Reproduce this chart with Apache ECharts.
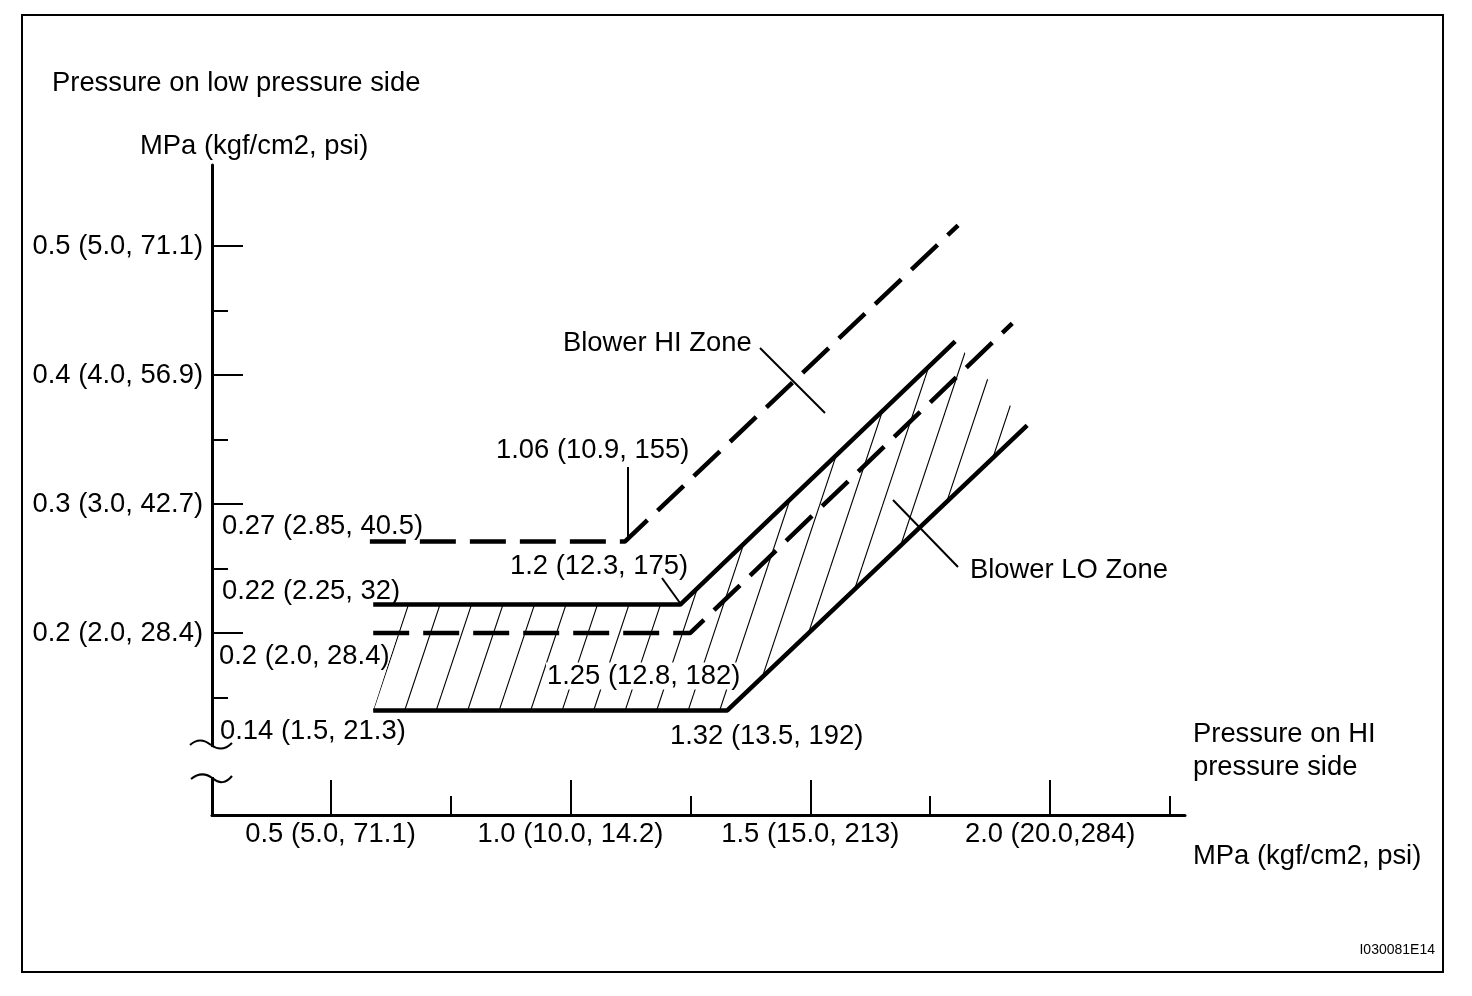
<!DOCTYPE html>
<html>
<head>
<meta charset="utf-8">
<script src="https://cdn.jsdelivr.net/npm/echarts@6.0.0/dist/echarts.min.js"></script>
<style>
html,body{margin:0;padding:0;background:#fff;}
#chart{width:1472px;height:996px;}
</style>
</head>
<body>
<div id="chart"></div>
<script>
// ---------- data ----------
const xMajorTicks = [0.5, 1.0, 1.5, 2.0];
const xMinorTicks = [0.75, 1.25, 1.75, 2.25];
const xTickLabels = ['0.5 (5.0, 71.1)', '1.0 (10.0, 14.2)', '1.5 (15.0, 213)', '2.0 (20.0,284)'];
const yMajorTicks = [0.2, 0.3, 0.4, 0.5];
const yMinorTicks = [0.15, 0.25, 0.35, 0.45];
const yTickLabels = ['0.2 (2.0, 28.4)', '0.3 (3.0, 42.7)', '0.4 (4.0, 56.9)', '0.5 (5.0, 71.1)'];
const xRange = [0.253, 2.281];
const yRange = [0.0589, 0.5628];

// boundary lines [HI-pressure, LO-pressure] in MPa
const hiZoneUpperDashed = [[0.582, 0.271], [1.114, 0.271], [1.808, 0.516]];
const loZoneUpperSolid  = [[0.589, 0.222], [1.229, 0.222], [1.802, 0.426]];
const loZoneLowerDashed = [[0.589, 0.200], [1.250, 0.200], [1.921, 0.440]];
const loZoneLowerSolid  = [[0.589, 0.140], [1.327, 0.140], [1.952, 0.361]];
// hatched region (Blower LO zone)
const hatchZone = [[0.589, 0.140], [0.660, 0.222], [1.229, 0.222], [1.802, 0.426], [1.952, 0.361], [1.327, 0.140]];

// ---------- helpers ----------
const FONT = '"Liberation Sans", Arial, sans-serif';
const FS = 27.4;
function labelFor(vals, labels) {
  return function (v) {
    const i = vals.findIndex(t => Math.abs(t - v) < 1e-6);
    return i >= 0 ? labels[i] : '';
  };
}
function makeHatch() {
  const W = 63, H = 189;
  const c = document.createElement('canvas');
  c.width = W; c.height = H;
  const g = c.getContext('2d');
  g.strokeStyle = '#000';
  g.lineWidth = 1.1;
  const phase = 43;
  for (let k = phase - 126; k <= phase + 126; k += 31.5) {
    g.beginPath();
    g.moveTo(k, 0);
    g.lineTo(k - 63, 189);
    g.stroke();
  }
  return c;
}
const hatchCanvas = makeHatch();

function txt(text, x, y, extra) {
  return {
    type: 'text', z: 100, x: x, y: y, silent: true,
    style: Object.assign({
      text: text, fill: '#000', font: FS + 'px ' + FONT,
      textAlign: 'left', textVerticalAlign: 'middle'
    }, extra || {})
  };
}
function seg(x1, y1, x2, y2, w) {
  return { type: 'line', z: 100, silent: true,
    shape: { x1: x1, y1: y1, x2: x2, y2: y2 },
    style: { stroke: '#000', lineWidth: w || 2 } };
}
function quad(x1, y1, cx, cy, x2, y2) {
  return { type: 'bezierCurve', z: 100, silent: true,
    shape: { x1: x1, y1: y1, cpx1: cx, cpy1: cy, x2: x2, y2: y2 },
    style: { fill: null, stroke: '#000', lineWidth: 2 } };
}

const chart = echarts.init(document.getElementById('chart'), null, { renderer: 'canvas' });

const axisCommon = { type: 'value', splitLine: { show: false } };

const option = {
  backgroundColor: '#fff',
  animation: false,
  grid: { left: 212, top: 165, width: 973, height: 650, containLabel: false },
  xAxis: [
    Object.assign({}, axisCommon, {
      min: xRange[0], max: xRange[1], position: 'bottom',
      axisLine: { show: true, onZero: false, lineStyle: { color: '#000', width: 3 } },
      axisTick: { show: true, inside: true, length: 35, customValues: xMajorTicks, lineStyle: { color: '#000', width: 2 } },
      axisLabel: { show: true, customValues: xMajorTicks, formatter: labelFor(xMajorTicks, xTickLabels),
        margin: 6, color: '#000', fontSize: FS, fontFamily: FONT }
    }),
    Object.assign({}, axisCommon, {
      min: xRange[0], max: xRange[1], position: 'bottom', offset: 0,
      axisLine: { show: false, onZero: false },
      axisTick: { show: true, inside: true, length: 19, customValues: xMinorTicks, lineStyle: { color: '#000', width: 2 } },
      axisLabel: { show: false }
    })
  ],
  yAxis: [
    Object.assign({}, axisCommon, {
      min: yRange[0], max: yRange[1], position: 'left',
      axisLine: { show: true, onZero: false, lineStyle: { color: '#000', width: 3 } },
      axisTick: { show: true, inside: true, length: 31, customValues: yMajorTicks, lineStyle: { color: '#000', width: 2 } },
      axisLabel: { show: true, customValues: yMajorTicks, formatter: labelFor(yMajorTicks, yTickLabels),
        margin: 9, color: '#000', fontSize: FS, fontFamily: FONT }
    }),
    Object.assign({}, axisCommon, {
      min: yRange[0], max: yRange[1], position: 'left', offset: 0,
      axisLine: { show: false, onZero: false },
      axisTick: { show: true, inside: true, length: 16, customValues: yMinorTicks, lineStyle: { color: '#000', width: 2 } },
      axisLabel: { show: false }
    })
  ],
  series: [
    {
      type: 'custom', name: 'Blower LO Zone hatch', xAxisIndex: 0, yAxisIndex: 0, silent: true, z: 1,
      data: [hatchZone[0]],
      renderItem: function (params, api) {
        return {
          type: 'polygon',
          shape: { points: hatchZone.map(p => api.coord(p)) },
          style: { fill: { image: hatchCanvas, repeat: 'repeat' }, stroke: null, lineWidth: 0 }
        };
      }
    },
    {
      type: 'line', name: 'HI upper', data: hiZoneUpperDashed, showSymbol: false, symbol: 'none', z: 3,
      lineStyle: { color: '#000', width: 4.5, type: [36, 14] }
    },
    {
      type: 'line', name: 'LO upper', data: loZoneUpperSolid, showSymbol: false, symbol: 'none', z: 3,
      lineStyle: { color: '#000', width: 4.5, type: 'solid' }
    },
    {
      type: 'line', name: 'LO lower dashed', data: loZoneLowerDashed, showSymbol: false, symbol: 'none', z: 3,
      lineStyle: { color: '#000', width: 4.5, type: [36, 14] }
    },
    {
      type: 'line', name: 'LO lower', data: loZoneLowerSolid, showSymbol: false, symbol: 'none', z: 3,
      lineStyle: { color: '#000', width: 4.5, type: 'solid' }
    }
  ],
  graphic: [
    { type: 'rect', z: 90, silent: true, shape: { x: 22, y: 15, width: 1421, height: 957 },
      style: { fill: null, stroke: '#000', lineWidth: 2 } },
    // axis break
    { type: 'rect', z: 95, silent: true, shape: { x: 205, y: 747, width: 14, height: 30 }, style: { fill: '#fff' } },
    quad(190, 745, 200, 736, 211, 745),
    quad(211, 745, 222, 753, 232, 743),
    quad(191, 779, 202, 770, 213, 778.5),
    quad(213, 778.5, 223, 787, 232, 776),
    // titles
    txt('Pressure on low pressure side', 52, 83),
    txt('MPa (kgf/cm2, psi)', 140, 146),
    txt('Pressure on HI', 1193, 734),
    txt('pressure side', 1193, 767),
    txt('MPa (kgf/cm2, psi)', 1193, 856),
    txt('I030081E14', 1435, 950, { font: '14px ' + FONT, textAlign: 'right' }),
    // annotations
    txt('Blower HI Zone', 563, 343),
    seg(760, 348, 825, 413),
    txt('1.06 (10.9, 155)', 496, 450),
    seg(628, 467, 628, 538),
    txt('0.27 (2.85, 40.5)', 222, 526),
    txt('0.22 (2.25, 32)', 222, 591),
    txt('1.2 (12.3, 175)', 510, 566),
    seg(662, 578, 680, 603),
    txt('0.2 (2.0, 28.4)', 219, 656),
    txt('1.25 (12.8, 182)', 546, 676, { backgroundColor: '#fff', padding: [0, 1] }),
    txt('0.14 (1.5, 21.3)', 220, 731),
    txt('1.32 (13.5, 192)', 670, 736),
    txt('Blower LO Zone', 970, 570),
    seg(893, 500, 958, 567)
  ]
};
chart.setOption(option);
</script>
</body>
</html>
